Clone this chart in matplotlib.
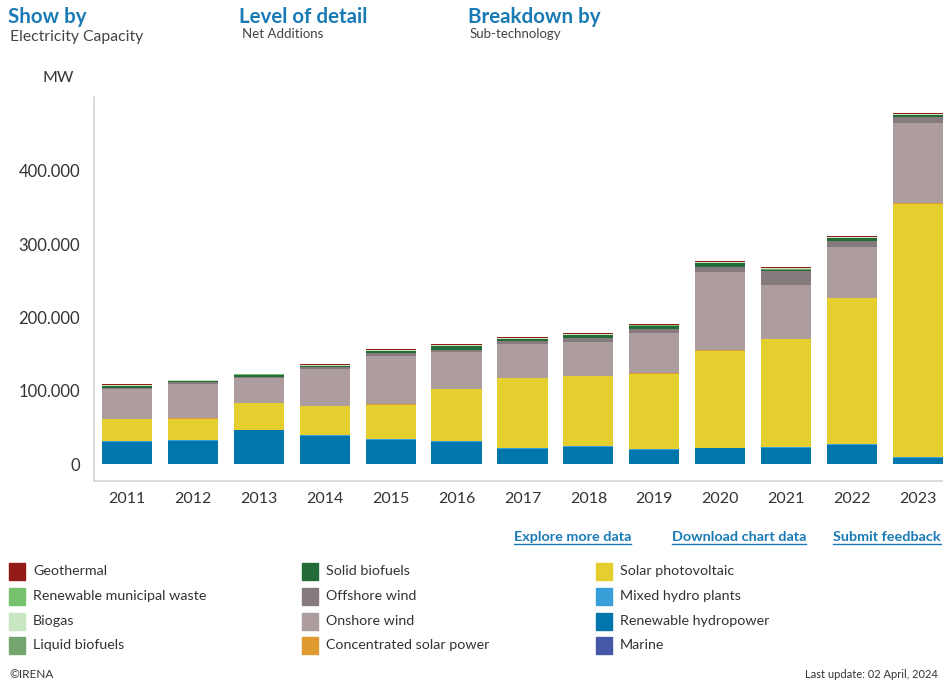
import matplotlib
matplotlib.use("Agg")
import matplotlib.pyplot as plt
from matplotlib.patches import Rectangle
import numpy as np

plt.rcParams['font.family'] = ['Lato', 'DejaVu Sans']

# Net additions, MW, by sub-technology (bottom of stack first)
years = ["2011", "2012", "2013", "2014", "2015", "2016", "2017",
         "2018", "2019", "2020", "2021", "2022", "2023"]

marine = [300, 100, 200, 100, 100, 100, 100, 100, 100, 100, 100, 100, 100]
hydro = [30000, 31500, 46000, 38500, 33000, 30500, 21000,
         23500, 19800, 21500, 22500, 26000, 8000]
mixed_hydro = [800, 900, 700, 900, 600, 700, 800, 900, 700, 700, 800, 800, 1000]
solar_pv = [30500, 29000, 36000, 39500, 47500, 71500, 96000,
            95500, 102500, 132500, 147500, 199000, 346000]
csp = [500, 900, 1100, 900, 400, 200, 100, 700, 600, 200, 100, 200, 300]
onshore = [40500, 47500, 33500, 50000, 66000, 50000, 45500,
           46000, 55000, 107000, 73000, 70500, 109000]
offshore = [1500, 1600, 1600, 2000, 3400, 3000, 3700,
            5000, 5500, 6800, 19000, 8200, 9100]
solid_bio = [1800, 1200, 1800, 2200, 3200, 5500, 3200, 4000, 3500, 5000, 2300, 3300, 2200]
liquid_bio = [500, 300, 200, 200, 200, 200, 200, 200, 200, 200, 200, 200, 200]
biogas = [1500, 1200, 1000, 800, 800, 700, 900, 1000, 1000, 1200, 1300, 1000, 900]
municipal = [500, 300, 500, 500, 600, 500, 600, 700, 800, 800, 1200, 900, 700]
geothermal = [300, 400, 600, 600, 500, 800, 700, 600, 700, 400, 1200, 1200, 1200]

series = [
    ("Marine", marine, "#4757a8"),
    ("Renewable hydropower", hydro, "#0076ad"),
    ("Mixed hydro plants", mixed_hydro, "#399fd8"),
    ("Solar photovoltaic", solar_pv, "#e5cf2f"),
    ("Concentrated solar power", csp, "#e09b30"),
    ("Onshore wind", onshore, "#ad9d9f"),
    ("Offshore wind", offshore, "#857a7c"),
    ("Solid biofuels", solid_bio, "#246b3a"),
    ("Liquid biofuels", liquid_bio, "#74a56f"),
    ("Biogas", biogas, "#c8e6c2"),
    ("Renewable municipal waste", municipal, "#76c26e"),
    ("Geothermal", geothermal, "#931b17"),
]

x = np.arange(len(years))
bar_width = 0.76

fig = plt.figure(figsize=(9.43, 6.84), dpi=100)
ax = fig.add_axes([94 / 943, 1 - 481 / 684, 1 - 94 / 943, (481 - 97) / 684])

bottom = np.zeros(len(years))
for name, vals, col in series:
    vals = np.array(vals, dtype=float)
    ax.bar(x, vals, width=bar_width, bottom=bottom, color=col,
           edgecolor="none", label=name)
    bottom += vals

ax.set_xlim(-0.5, 12.38)
ax.set_ylim(-23000, 500500)
ax.set_yticks([0, 100000, 200000, 300000, 400000])
ax.set_yticklabels(["0", "100.000", "200.000", "300.000", "400.000"])
ax.set_xticks(x)
ax.set_xticklabels(years)
ax.tick_params(axis='both', length=0, colors="#333333")
ax.tick_params(axis='y', labelsize=12, pad=10)
ax.tick_params(axis='x', labelsize=11.5, pad=8)
for s in ["top", "right"]:
    ax.spines[s].set_visible(False)
for s in ["left", "bottom"]:
    ax.spines[s].set_color("#d4d4d4")
    ax.spines[s].set_linewidth(1.2)

# header
blue = "#1a7ab5"
fig.text(8 / 943, 1 - 17 / 684, "Show by", color=blue, fontsize=14.8,
         fontweight="bold", va="center")
fig.text(10 / 943, 1 - 37 / 684, "Electricity Capacity", color="#444444",
         fontsize=11.3, va="center")
fig.text(239 / 943, 1 - 17 / 684, "Level of detail", color=blue, fontsize=14.8,
         fontweight="bold", va="center")
fig.text(242 / 943, 1 - 34 / 684, "Net Additions", color="#444444",
         fontsize=9.5, va="center")
fig.text(468 / 943, 1 - 17 / 684, "Breakdown by", color=blue, fontsize=14.8,
         fontweight="bold", va="center")
fig.text(470 / 943, 1 - 34 / 684, "Sub-technology", color="#444444",
         fontsize=9.5, va="center")
fig.text(42 / 943, 1 - 78 / 684, "MW", color="#333333", fontsize=11.5, va="center")

# links
link_blue = "#1a7ab5"
links = []
for xp, txt in [(514, "Explore more data"), (672, "Download chart data"),
                (833, "Submit feedback")]:
    links.append(fig.text(xp / 943, 1 - 537 / 684, txt, color=link_blue,
                          fontsize=10.4, fontweight="bold", va="center"))
fig.canvas.draw()
rend = fig.canvas.get_renderer()
for t in links:
    bb = t.get_window_extent(rend)
    x0, x1 = bb.x0 / fig.bbox.width, bb.x1 / fig.bbox.width
    yl = (bb.y0 - 1) / fig.bbox.height
    fig.add_artist(plt.Line2D([x0, x1], [yl, yl], color=link_blue, lw=1,
                              transform=fig.transFigure))

# legend, three columns of four
legend_items = list(reversed(series))
col_x = [9, 302, 596]
row_y = [571, 596, 621, 645]
for i, (name, vals, col) in enumerate(legend_items):
    cx = col_x[i // 4]
    cy = row_y[i % 4]
    fig.add_artist(Rectangle((cx / 943, 1 - (cy + 8.5) / 684), 16 / 943, 17 / 684,
                             color=col, transform=fig.transFigure))
    fig.text((cx + 24) / 943, 1 - cy / 684, name, color="#333333",
             fontsize=10.3, va="center")

fig.text(9 / 943, 1 - 674 / 684, "©IRENA", color="#333333", fontsize=8.5,
         va="center")
fig.text(805 / 943, 1 - 674 / 684, "Last update: 02 April, 2024", color="#333333",
         fontsize=8, va="center")

fig.savefig("out.png", dpi=100)
